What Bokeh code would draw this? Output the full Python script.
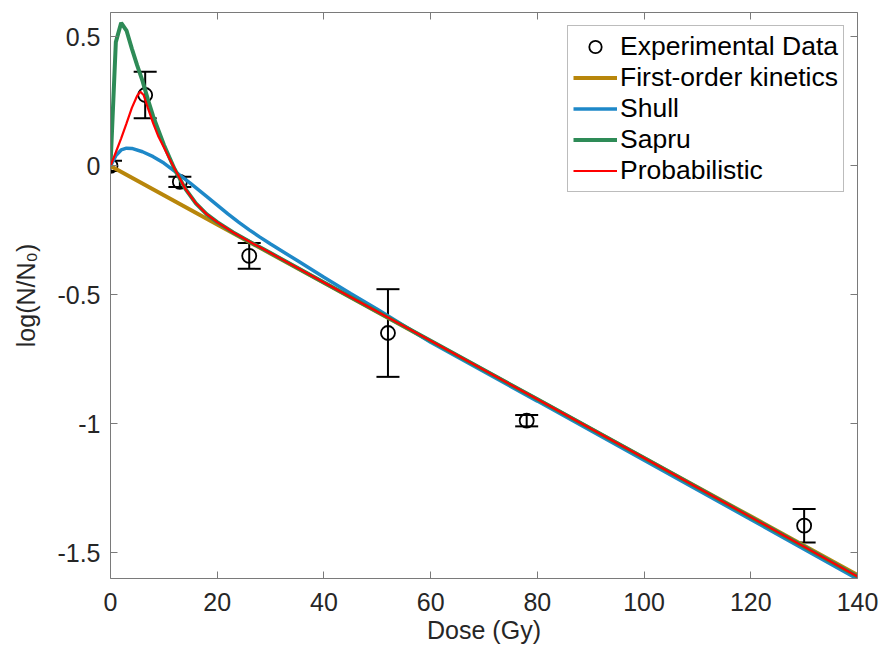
from bokeh.plotting import figure
from bokeh.models import (ColumnDataSource, Whisker, TeeHead, FixedTicker, LinearAxis,
                          Legend, LegendItem, Range1d, CustomJSTickFormatter)
from bokeh.embed import file_html
from bokeh.resources import INLINE

# ---------------- data ----------------
exp_dose = [0, 6.5, 13, 26, 52, 78, 130]
exp_log = [0.0, 0.275, -0.062, -0.349, -0.648, -0.988, -1.395]
exp_err = [0.02, 0.09, 0.02, 0.05, 0.17, 0.022, 0.065]

first_order_dose = [0, 20, 40, 60, 80, 100, 120, 140]
first_order_log = [0.0, -0.227, -0.453, -0.680, -0.906, -1.133, -1.359, -1.586]

shull_dose = [0, 1, 2, 3, 4, 6, 8, 10, 12, 15, 18, 20, 22, 24, 26, 28, 30, 35, 40,
              45, 50, 55, 60, 80, 100, 120, 140]
shull_log = [0.0, 0.04, 0.062, 0.069, 0.068, 0.055, 0.036, 0.011, -0.02, -0.068,
             -0.118, -0.152, -0.186, -0.218, -0.248, -0.276, -0.303, -0.367, -0.432,
             -0.495, -0.556, -0.62, -0.684, -0.912, -1.141, -1.371, -1.602]

sapru_dose = [0, 1, 2, 3, 4, 5, 6, 7, 8, 10, 12, 14, 16, 18, 20, 23, 26, 30, 40,
              60, 80, 100, 120, 140]
sapru_log = [0.0, 0.48, 0.555, 0.525, 0.455, 0.39, 0.33, 0.258, 0.192, 0.082,
             -0.012, -0.088, -0.145, -0.187, -0.218, -0.258, -0.293, -0.338,
             -0.452, -0.678, -0.905, -1.133, -1.362, -1.592]

prob_dose = [0, 1, 2, 3, 4, 5, 5.6, 6.2, 7, 8, 9, 10, 11, 12, 14, 16, 18, 20, 23,
             26, 30, 40, 60, 80, 100, 120, 140]
prob_log = [0.0, 0.053, 0.107, 0.165, 0.225, 0.272, 0.288, 0.275, 0.225, 0.165,
            0.113, 0.072, 0.03, -0.01, -0.088, -0.145, -0.187, -0.218, -0.258,
            -0.293, -0.338, -0.452, -0.678, -0.905, -1.133, -1.362, -1.592]

x_ticks = [0, 20, 40, 60, 80, 100, 120, 140]
y_ticks = [-1.5, -1, -0.5, 0, 0.5]
y_tick_labels = ["-1.5", "-1", "-0.5", "0", "0.5"]

series_names = ["Experimental Data", "First-order kinetics", "Shull", "Sapru", "Probabilistic"]
x_title = "Dose (Gy)"
y_title = "log(N/N\u2080)"

# ---------------- styling ----------------
FONT = "Liberation Sans"
TXT = "#262626"
AX = "#7a7a7a"
GOLD = "#B8860B"
BLUE = "#1E88C8"
GREEN = "#2E8B57"
RED = "#FF0000"

p = figure(width=880, height=650, output_backend="svg", toolbar_location=None,
           x_range=Range1d(0, 140), y_range=Range1d(-1.6, 0.595),
           min_border_left=110, min_border_right=23, min_border_top=12,
           min_border_bottom=72)
p.xgrid.visible = False
p.ygrid.visible = False
p.outline_line_color = None
p.background_fill_color = "white"
p.border_fill_color = "white"


def style_axis(ax, standoff):
    ax.axis_line_color = AX
    ax.axis_line_width = 1
    ax.major_tick_line_color = AX
    ax.major_tick_in = 7
    ax.major_tick_out = 0
    ax.minor_tick_in = 0
    ax.minor_tick_out = 0
    ax.minor_tick_line_color = None
    ax.major_label_text_font = FONT
    ax.major_label_text_font_size = "25px"
    ax.major_label_text_color = TXT
    ax.major_label_standoff = standoff


p.xaxis.ticker = FixedTicker(ticks=x_ticks)
p.yaxis.ticker = FixedTicker(ticks=y_ticks)
p.yaxis.major_label_overrides = {t: s for t, s in zip(y_ticks, y_tick_labels)}
style_axis(p.xaxis[0], 14)
style_axis(p.yaxis[0], 10)
for ax, lab, so in ((p.xaxis[0], x_title, 2), (p.yaxis[0], y_title, 14)):
    ax.axis_label = lab
    ax.axis_label_text_font = FONT
    ax.axis_label_text_font_size = "25px"
    ax.axis_label_text_font_style = "normal"
    ax.axis_label_text_color = TXT
    ax.axis_label_standoff = so

blank = CustomJSTickFormatter(code="return ''")
top_ax = LinearAxis(ticker=FixedTicker(ticks=x_ticks), formatter=blank)
right_ax = LinearAxis(ticker=FixedTicker(ticks=y_ticks), formatter=blank)
for ax in (top_ax, right_ax):
    style_axis(ax, 0)
    ax.major_label_text_font_size = "0px"
p.add_layout(top_ax, "above")
p.add_layout(right_ax, "right")

# ---------------- experimental data ----------------
src = ColumnDataSource(dict(
    x=exp_dose, y=exp_log,
    upper=[v + e for v, e in zip(exp_log, exp_err)],
    lower=[v - e for v, e in zip(exp_log, exp_err)],
))
whisk = Whisker(source=src, base="x", upper="upper", lower="lower",
                line_color="black", line_width=2, level="underlay",
                upper_head=TeeHead(size=23, line_color="black", line_width=2),
                lower_head=TeeHead(size=23, line_color="black", line_width=2))
p.add_layout(whisk)
r_exp = p.scatter("x", "y", source=src, marker="circle", size=14,
                  fill_color=None, line_color="black", line_width=1.8)

# ---------------- model curves ----------------
r_fo = p.line(first_order_dose, first_order_log, line_color=GOLD, line_width=4)
r_sh = p.line(shull_dose, shull_log, line_color=BLUE, line_width=3.5)
r_sa = p.line(sapru_dose, sapru_log, line_color=GREEN, line_width=4)
r_pr = p.line(prob_dose, prob_log, line_color=RED, line_width=2.2)

legend = Legend(items=[LegendItem(label=n, renderers=[r]) for n, r in
                       zip(series_names, [r_exp, r_fo, r_sh, r_sa, r_pr])],
                location="top_right")
legend.label_text_font = FONT
legend.label_text_font_size = "26.5px"
legend.label_text_color = "black"
legend.border_line_color = AX
legend.border_line_width = 1
legend.background_fill_alpha = 1.0
legend.padding = 5
legend.spacing = 0
legend.glyph_width = 44
legend.glyph_height = 31
legend.label_height = 31
legend.label_standoff = 3
legend.margin = 13
p.add_layout(legend)

open("out.html", "w").write(file_html(p, INLINE))
